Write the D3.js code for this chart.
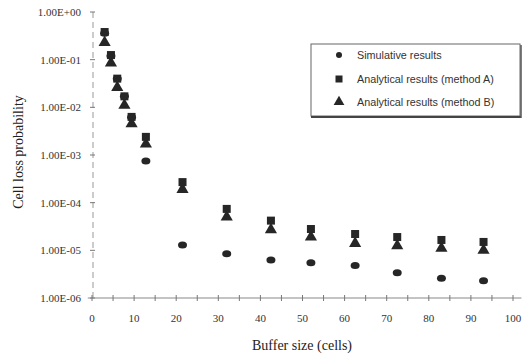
<!DOCTYPE html>
<html>
<head>
<meta charset="utf-8">
<script src="https://cdn.jsdelivr.net/npm/d3@7"></script>
<style>
  body { margin: 0; background: #fff; }
  svg { display: block; }
  .tick-label { font-family: "Liberation Serif", "DejaVu Serif", serif; font-size: 11px; fill: #333; }
  .title { font-family: "Liberation Serif", "DejaVu Serif", serif; font-size: 14px; fill: #222; }
  .legend text { font-family: "Liberation Sans", Arial, sans-serif; font-size: 10.8px; fill: #333; }
</style>
</head>
<body>
<svg width="532" height="357"></svg>
<script>
// buffer sizes (cells)
var buffer = [3, 4.5, 6, 7.7, 9.4, 12.8, 21.5, 32, 42.5, 52, 62.5, 72.5, 83, 93];
// simulative results
var simulative = [0.36, 0.12, 0.04, 0.017, 0.0062, 0.00075, 1.3e-5, 8.5e-6, 6.3e-6, 5.5e-6, 4.8e-6, 3.4e-6, 2.6e-6, 2.3e-6];
// analytical results, method A
var methodA = [0.38, 0.125, 0.04, 0.017, 0.0063, 0.0024, 2.7e-4, 7.4e-5, 4.2e-5, 2.8e-5, 2.2e-5, 1.9e-5, 1.65e-5, 1.5e-5];
// analytical results, method B
var methodB = [0.23, 0.085, 0.026, 0.011, 0.0045, 0.0017, 1.9e-4, 5e-5, 2.7e-5, 1.9e-5, 1.4e-5, 1.25e-5, 1.1e-5, 1.0e-5];

var yTicks = [1, 1e-1, 1e-2, 1e-3, 1e-4, 1e-5, 1e-6];
var yTickLabels = ["1.00E+00", "1.00E-01", "1.00E-02", "1.00E-03", "1.00E-04", "1.00E-05", "1.00E-06"];
var xTicks = [0, 10, 20, 30, 40, 50, 60, 70, 80, 90, 100];
var legendLabels = ["Simulative results", "Analytical results (method A)", "Analytical results (method B)"];

var svg = d3.select("svg");

var x = d3.scaleLinear().domain([0, 100]).range([92, 513]);
var y = d3.scaleLog().domain([1e-6, 1]).range([298, 12]);

var ink = "#262626";

// y axis (dashed)
svg.append("line")
    .attr("x1", x(0) + 1).attr("x2", x(0) + 1)
    .attr("y1", y(1)).attr("y2", y(1e-6))
    .attr("stroke", "#999").attr("stroke-width", 1)
    .attr("stroke-dasharray", "6,4");

svg.selectAll(".ytick")
    .data(yTicks)
  .enter().append("line")
    .attr("x1", x(0) - 2).attr("x2", x(0) + 3)
    .attr("y1", function(d) { return y(d); })
    .attr("y2", function(d) { return y(d); })
    .attr("stroke", "#777");

svg.selectAll(".ylab")
    .data(yTicks)
  .enter().append("text")
    .attr("class", "tick-label")
    .attr("x", 81)
    .attr("y", function(d) { return y(d) + 4; })
    .attr("text-anchor", "end")
    .text(function(d, i) { return yTickLabels[i]; });

// x axis
svg.append("line")
    .attr("x1", x(-1)).attr("x2", x(102))
    .attr("y1", y(1e-6)).attr("y2", y(1e-6))
    .attr("stroke", "#888").attr("stroke-width", 1);

svg.selectAll(".xtick")
    .data(d3.range(0, 101, 5))
  .enter().append("line")
    .attr("x1", function(d) { return x(d); })
    .attr("x2", function(d) { return x(d); })
    .attr("y1", y(1e-6) - 3).attr("y2", y(1e-6) + 3)
    .attr("stroke", "#777");

svg.selectAll(".xlab")
    .data(xTicks)
  .enter().append("text")
    .attr("class", "tick-label")
    .attr("x", function(d) { return x(d); })
    .attr("y", 322)
    .attr("text-anchor", "middle")
    .text(function(d) { return d; });

// axis titles
svg.append("text")
    .attr("class", "title")
    .attr("x", 302).attr("y", 350)
    .attr("text-anchor", "middle")
    .text("Buffer size (cells)");

svg.append("text")
    .attr("class", "title")
    .attr("transform", "translate(23,152) rotate(-90)")
    .attr("text-anchor", "middle")
    .text("Cell loss probability");

// markers
var tri = d3.symbol().type(d3.symbolTriangle).size(64);

svg.selectAll(".ptB")
    .data(buffer)
  .enter().append("path")
    .attr("d", tri)
    .attr("transform", function(d, i) { return "translate(" + x(d) + "," + y(methodB[i]) + ")"; })
    .attr("fill", ink);

svg.selectAll(".ptA")
    .data(buffer)
  .enter().append("rect")
    .attr("x", function(d) { return x(d) - 4; })
    .attr("y", function(d, i) { return y(methodA[i]) - 4; })
    .attr("width", 8).attr("height", 8)
    .attr("fill", ink);

svg.selectAll(".ptS")
    .data(buffer)
  .enter().append("ellipse")
    .attr("cx", function(d) { return x(d); })
    .attr("cy", function(d, i) { return y(simulative[i]); })
    .attr("rx", 4.5).attr("ry", 3.5)
    .attr("fill", ink);

// legend
var legend = svg.append("g").attr("class", "legend");

legend.append("rect")
    .attr("x", 311).attr("y", 44)
    .attr("width", 209).attr("height", 72)
    .attr("fill", "#fff")
    .attr("stroke", "#666").attr("stroke-width", 1);
legend.append("line")
    .attr("x1", 311).attr("x2", 521)
    .attr("y1", 117).attr("y2", 117)
    .attr("stroke", "#444").attr("stroke-width", 2);
legend.append("line")
    .attr("x1", 521).attr("x2", 521)
    .attr("y1", 45).attr("y2", 118)
    .attr("stroke", "#555").attr("stroke-width", 1.5);

var ly = [55, 79, 102];

legend.append("circle").attr("cx", 339).attr("cy", ly[0]).attr("r", 3).attr("fill", ink);
legend.append("rect").attr("x", 335.5).attr("y", ly[1] - 3.5).attr("width", 7).attr("height", 7).attr("fill", ink);
legend.append("path")
    .attr("d", d3.symbol().type(d3.symbolTriangle).size(50))
    .attr("transform", "translate(339," + ly[2] + ")")
    .attr("fill", ink);

legend.selectAll(".ltext")
    .data(legendLabels)
  .enter().append("text")
    .attr("x", 357)
    .attr("y", function(d, i) { return ly[i] + 4; })
    .text(function(d) { return d; });
</script>
</body>
</html>
